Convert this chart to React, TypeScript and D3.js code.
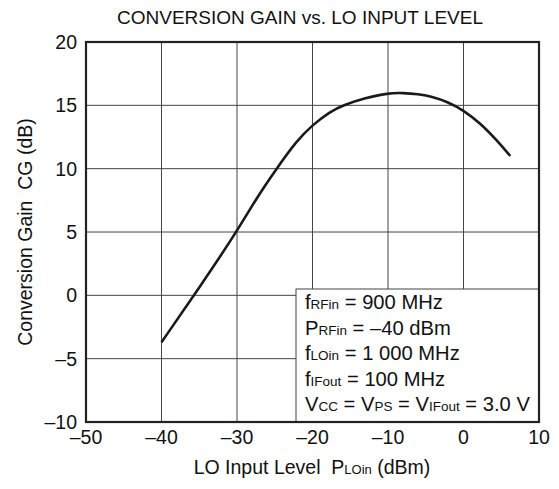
import React from "react";
import * as d3 from "d3";

const xTicks = [-50, -40, -30, -20, -10, 0, 10];
const yTicks = [-10, -5, 0, 5, 10, 15, 20];
const loLevel = [-40, -35, -30, -27.4, -24.7, -22.1, -20, -17.7, -15.9, -13, -10, -8, -6, -4.4, -2, 0, 2.2, 4.4, 6.2];
const convGain = [-3.7, 0.6, 5.05, 7.7, 10.05, 12.2, 13.45, 14.5, 15.02, 15.58, 15.97, 15.98, 15.88, 15.72, 15.25, 14.6, 13.6, 12.25, 11.0];

const W = 559, H = 489;
const M = { left: 86, right: 20, top: 42, bottom: 67 };
const FONT = "'Liberation Sans', Arial, Helvetica, sans-serif";
const fmt = (v: number) => (v < 0 ? "\u2013" + Math.abs(v) : String(v));

export default function App() {
  const x = d3.scaleLinear().domain([-50, 10]).range([M.left, W - M.right]);
  const y = d3.scaleLinear().domain([-10, 20]).range([H - M.bottom, M.top]);
  const pts: [number, number][] = loLevel.map((v, i) => [v, convGain[i]]);
  const line = d3
    .line<[number, number]>()
    .x((d) => x(d[0]))
    .y((d) => y(d[1]))
    .curve(d3.curveBasis);

  const boxX = 296, boxY = 289;
  const lx = 305;
  const lineGap = 25.5;
  const base0 = 309;
  const fs = 20.2, sub = 13.5;

  const legend: { parts: [string, boolean][] }[] = [
    { parts: [["f", false], ["RFin", true], [" = 900 MHz", false]] },
    { parts: [["P", false], ["RFin", true], [" = \u201340 dBm", false]] },
    { parts: [["f", false], ["LOin", true], [" = 1 000 MHz", false]] },
    { parts: [["f", false], ["IFout", true], [" = 100 MHz", false]] },
    { parts: [["V", false], ["CC", true], [" = V", false], ["PS", true], [" = V", false], ["IFout", true], [" = 3.0 V", false]] },
  ];

  return (
    <svg width={W} height={H} style={{ display: "block", position: "absolute", left: 0, top: 0 }} fontFamily={FONT}>
      <rect x={0} y={0} width={W} height={H} fill="#fff" />
      <text x={300} y={24} textAnchor="middle" fontSize={19} fill="#111">
        CONVERSION GAIN vs. LO INPUT LEVEL
      </text>
      {xTicks.slice(1, -1).map((t) => (
        <line key={"gx" + t} x1={x(t)} x2={x(t)} y1={y(20)} y2={y(-10)} stroke="#444" strokeWidth={1} />
      ))}
      {yTicks.slice(1, -1).map((t) => (
        <line key={"gy" + t} x1={x(-50)} x2={x(10)} y1={y(t)} y2={y(t)} stroke="#444" strokeWidth={1} />
      ))}
      <path d={line(pts) || ""} fill="none" stroke="#1a1a1a" strokeWidth={2.6} />
      <rect x={boxX} y={boxY} width={x(10) - boxX} height={y(-10) - boxY} fill="#fff" stroke="#444" strokeWidth={1} />
      <rect x={x(-50)} y={y(20)} width={x(10) - x(-50)} height={y(-10) - y(20)} fill="none" stroke="#222" strokeWidth={2.2} />
      {legend.map((l, i) => (
        <text key={i} x={lx} y={base0 + i * lineGap} fontSize={fs} fill="#111">
          {l.parts.map(([s, isSub], j) => (
            <tspan key={j} fontSize={isSub ? sub : fs}>{s}</tspan>
          ))}
        </text>
      ))}
      {yTicks.map((t) => (
        <text key={"yt" + t} x={77} y={y(t)} dy="0.36em" textAnchor="end" fontSize={19.5} fill="#111">
          {fmt(t)}
        </text>
      ))}
      {xTicks.map((t) => (
        <text key={"xt" + t} x={x(t)} y={444} textAnchor="middle" fontSize={19.5} fill="#111">
          {fmt(t)}
        </text>
      ))}
      <text x={312} y={474} textAnchor="middle" fontSize={19.5} fill="#111" style={{ whiteSpace: "pre" }}>
        <tspan>LO Input Level  P</tspan>
        <tspan fontSize={13}>LOin</tspan>
        <tspan> (dBm)</tspan>
      </text>
      <text transform={`translate(32, ${(y(20) + y(-10)) / 2}) rotate(-90)`} textAnchor="middle" fontSize={19.5} fill="#111" style={{ whiteSpace: "pre" }}>
        Conversion Gain  CG (dB)
      </text>
    </svg>
  );
}
